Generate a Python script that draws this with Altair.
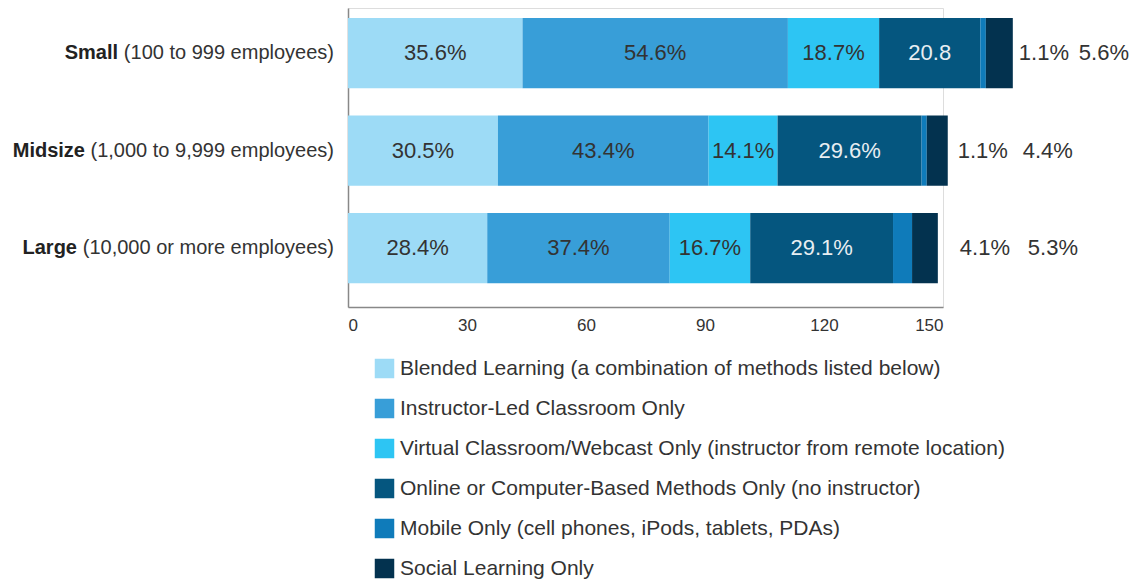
import altair as alt
import pandas as pd

# ---- data ----
categories = ["Small", "Midsize", "Large"]
category_detail = ["(100 to 999 employees)", "(1,000 to 9,999 employees)", "(10,000 or more employees)"]

methods = [
    "Blended Learning (a combination of methods listed below)",
    "Instructor-Led Classroom Only",
    "Virtual Classroom/Webcast Only (instructor from remote location)",
    "Online or Computer-Based Methods Only (no instructor)",
    "Mobile Only (cell phones, iPods, tablets, PDAs)",
    "Social Learning Only",
]

# printed percentages (per category: Small, Midsize, Large)
blended = [35.6, 30.5, 28.4]
instructor = [54.6, 43.4, 37.4]
virtual = [18.7, 14.1, 16.7]
online = [20.8, 29.6, 29.1]
mobile = [1.1, 1.1, 4.1]
social = [5.6, 4.4, 5.3]

# bar segment lengths as drawn, read against the 0-150 axis
len_blended = [44.0, 37.8, 35.1]
len_instructor = [66.9, 53.1, 46.0]
len_virtual = [23.0, 17.4, 20.3]
len_online = [25.5, 36.3, 36.0]
len_mobile = [1.4, 1.3, 4.8]
len_social = [6.8, 5.3, 6.5]

# label text exactly as printed (the Small/online label lacks a % sign)
no_percent = {("Small", 3)}

colors = ["#9DDBF6", "#389ED8", "#2DC5F3", "#05567F", "#0F7BBA", "#03324F"]

pcts = [blended, instructor, virtual, online, mobile, social]
lens = [len_blended, len_instructor, len_virtual, len_online, len_mobile, len_social]

rows = []
for ci, cat in enumerate(categories):
    start = 0.0
    for mi, m in enumerate(methods):
        L = lens[mi][ci]
        v = pcts[mi][ci]
        txt = f"{v}" if (cat, mi) in no_percent else f"{v}%"
        rows.append(dict(cat=cat, method=m, idx=mi, start=start, end=start + L,
                         mid=start + L / 2, label=txt))
        start += L
df = pd.DataFrame(rows)

cat_df = pd.DataFrame(dict(cat=categories, detail=category_detail))

FONT = "Liberation Sans, Arial, Helvetica, sans-serif"

# style: pixel offsets of the outside labels from each bar's end, and of the bold words
out1_dx = [6, 10, 22]
out2_dx = [66, 75, 90]
bold_dx = [-230, -263, -271]

yenc = alt.Y("cat:N", sort=categories,
             scale=alt.Scale(paddingInner=0.28, paddingOuter=0.1733, align=0.296),
             axis=alt.Axis(labels=False, ticks=False, title=None,
                           domainColor="#888888", domainWidth=1.5))
ysimple = alt.Y("cat:N", sort=categories)

bars = alt.Chart(df).mark_bar(clip=False).encode(
    x=alt.X("start:Q", scale=alt.Scale(domain=[0, 150], nice=False),
            axis=alt.Axis(values=[0, 30, 60, 90, 120, 150], grid=False, ticks=False,
                          title=None, labelFont=FONT, labelFontSize=17,
                          labelColor="#333333", labelPadding=10,
                          domainColor="#888888", domainWidth=1.5)),
    x2="end:Q",
    y=yenc,
    color=alt.Color("method:N", sort=methods,
                    scale=alt.Scale(domain=methods, range=colors),
                    legend=alt.Legend(orient="none", legendX=26, legendY=350,
                                      title=None, symbolType="square", symbolSize=380,
                                      symbolStrokeWidth=0, labelFont=FONT,
                                      labelFontSize=21, labelColor="#333333",
                                      labelOffset=5, rowPadding=18, padding=0,
                                      labelLimit=800)),
)

inner_dark = alt.Chart(df[df["idx"] < 3]).mark_text(
    font=FONT, fontSize=22, color="#333333", clip=False
).encode(x="mid:Q", y=ysimple, text="label:N")
inner_light = alt.Chart(df[df["idx"] == 3]).mark_text(
    font=FONT, fontSize=22, color="#E8EEF2", clip=False
).encode(x="mid:Q", y=ysimple, text="label:N")

# end of each bar for outside labels
ends = df.groupby("cat", as_index=False)["end"].max().rename(columns={"end": "bar_end"})
out = df[df["idx"] >= 4].merge(ends, on="cat")

out_layers = []
for cat, d1, d2 in zip(categories, out1_dx, out2_dx):
    sub = out[out["cat"] == cat]
    for idx, d in ((4, d1), (5, d2)):
        out_layers.append(
            alt.Chart(sub[sub["idx"] == idx]).mark_text(
                font=FONT, fontSize=22, color="#333333", align="left", dx=d, clip=False
            ).encode(x="bar_end:Q", y=ysimple, text="label:N")
        )

detail_txt = alt.Chart(cat_df).mark_text(
    font=FONT, fontSize=20, color="#333333", align="right", dx=-14, clip=False
).encode(x=alt.value(0), y=ysimple, text="detail:N")

bold_layers = []
for cat, bdx in zip(categories, bold_dx):
    bold_layers.append(
        alt.Chart(cat_df[cat_df["cat"] == cat]).mark_text(
            font=FONT, fontSize=20, fontWeight="bold", color="#222222",
            align="right", dx=bdx, clip=False
        ).encode(x=alt.value(0), y=ysimple, text="cat:N")
    )

chart = alt.layer(bars, inner_dark, inner_light, *out_layers, detail_txt, *bold_layers).properties(
    width=595, height=299,
    autosize=alt.AutoSizeParams(type="none"),
    padding={"left": 340, "top": 0, "right": 193, "bottom": 273},
).configure_view(stroke=None).configure(background="white")

chart.save("out.html", embed_options={"renderer": "svg", "actions": False})
